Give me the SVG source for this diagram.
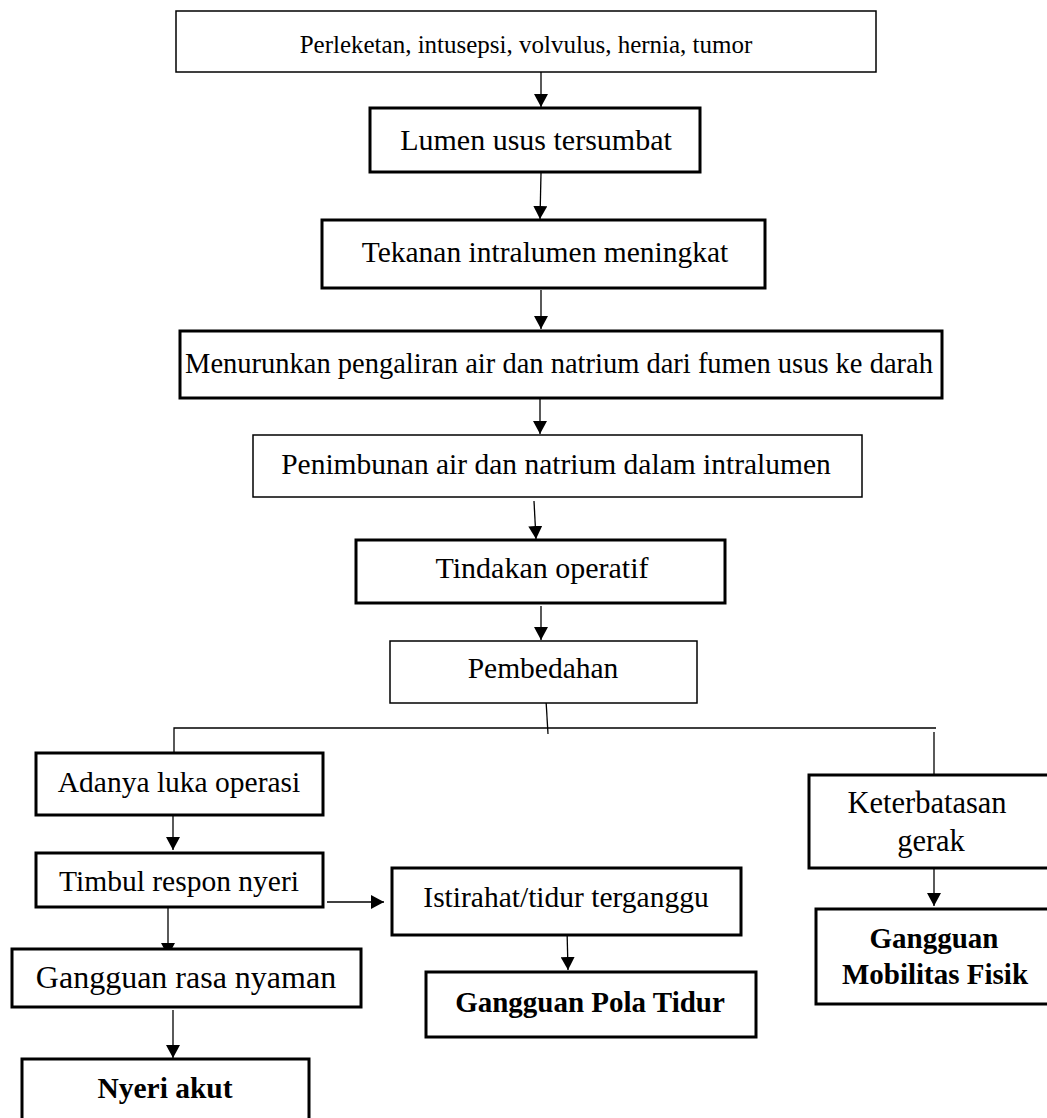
<svg xmlns="http://www.w3.org/2000/svg" width="1047" height="1118" viewBox="0 0 1047 1118">
<style>
.thin{fill:#fff;stroke:#000;stroke-width:1.5}
.thick{fill:#fff;stroke:#000;stroke-width:3}
.t{font-family:"Liberation Serif","Times New Roman",serif;font-size:29.5px;fill:#000;text-anchor:middle}
.b{font-weight:bold}
.c{fill:none;stroke:#000;stroke-width:1.3}
.a{fill:none;stroke:#000;stroke-width:1.3;marker-end:url(#ah)}
</style>
<defs>
<marker id="ah" viewBox="0 0 13 14" refX="13" refY="7" markerWidth="13" markerHeight="14" markerUnits="userSpaceOnUse" orient="auto">
<path d="M0,0 L13,7 L0,14 z" fill="#000"/>
</marker>
</defs>
<rect width="1047" height="1118" fill="#fff"/>
<g id="connectors">
<line class="a" x1="541" y1="72" x2="541" y2="107"/>
<line class="a" x1="541" y1="173" x2="540" y2="219"/>
<line class="a" x1="541" y1="290" x2="541" y2="329"/>
<line class="a" x1="540" y1="399" x2="540" y2="434"/>
<line class="a" x1="534" y1="501" x2="536" y2="539"/>
<line class="a" x1="541" y1="606" x2="541" y2="640"/>
<line class="c" x1="546" y1="700" x2="548" y2="734"/>
<polyline class="c" points="174,763 174,728 936,728"/>
<line class="c" x1="934" y1="732" x2="934" y2="775"/>
<line class="a" x1="173" y1="807" x2="173" y2="850"/>
<line class="a" x1="327" y1="902" x2="384" y2="902"/>
<line class="a" x1="168" y1="908" x2="168" y2="956"/>
<line class="a" x1="567" y1="929" x2="568" y2="970"/>
<line class="a" x1="173" y1="1010" x2="173" y2="1058"/>
<line class="a" x1="934" y1="862" x2="934" y2="906"/>
</g>
<g id="n1"><rect class="thin" x="176" y="11" width="700" height="61"/><text class="t" style="font-size:25px" x="526" y="53">Perleketan, intusepsi, volvulus, hernia, tumor</text></g>
<g id="n2"><rect class="thick" x="370" y="108" width="330" height="64"/><text class="t" style="font-size:30px" x="536" y="150">Lumen usus tersumbat</text></g>
<g id="n3"><rect class="thick" x="322" y="220" width="443" height="68"/><text class="t" x="545" y="262">Tekanan intralumen meningkat</text></g>
<g id="n4"><rect class="thick" x="180" y="331" width="762" height="67"/><text class="t" style="font-size:28.5px" x="559" y="373">Menurunkan pengaliran air dan natrium dari fumen usus ke darah</text></g>
<g id="n5"><rect class="thin" x="253" y="435" width="609" height="62"/><text class="t" x="556" y="474">Penimbunan air dan natrium dalam intralumen</text></g>
<g id="n6"><rect class="thick" x="356" y="540" width="369" height="63"/><text class="t" style="font-size:30px" x="542" y="578">Tindakan operatif</text></g>
<g id="n7"><rect class="thin" x="390" y="641" width="307" height="62"/><text class="t" x="543" y="678">Pembedahan</text></g>
<g id="n8"><rect class="thick" x="36" y="753" width="287" height="62"/><text class="t" x="179" y="792">Adanya luka operasi</text></g>
<g id="n9"><rect class="thick" x="36" y="853" width="287" height="54"/><text class="t" x="179" y="891">Timbul respon nyeri</text></g>
<g id="n10"><rect class="thick" x="392" y="868" width="349" height="67"/><text class="t" x="566" y="907">Istirahat/tidur terganggu</text></g>
<g id="n11"><rect class="thick" x="426" y="972" width="330" height="65"/><text class="t b" style="font-size:29px" x="590" y="1012">Gangguan Pola Tidur</text></g>
<g id="n12"><rect class="thick" x="12" y="949" width="349" height="58"/><text class="t" style="font-size:32px" x="186" y="988">Gangguan rasa nyaman</text></g>
<g id="n13"><rect class="thick" x="22" y="1059" width="287" height="70"/><text class="t b" x="165" y="1098">Nyeri akut</text></g>
<g id="n14"><rect class="thick" x="809" y="775" width="250" height="93"/><text class="t" style="font-size:30.5px" x="927" y="813">Keterbatasan</text><text class="t" style="font-size:30.5px" x="931" y="851">gerak</text></g>
<g id="n15"><rect class="thick" x="816" y="909" width="250" height="95"/><text class="t b" style="font-size:29px" x="934" y="948">Gangguan</text><text class="t b" style="font-size:29px" x="935" y="984">Mobilitas Fisik</text></g>
</svg>
